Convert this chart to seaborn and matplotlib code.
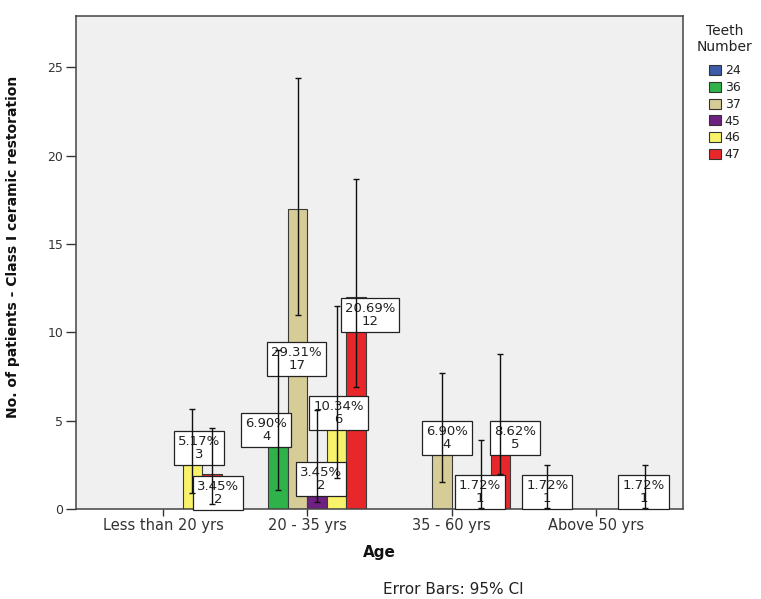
import numpy as np
import pandas as pd
import matplotlib
matplotlib.use("Agg")
import matplotlib.pyplot as plt
from matplotlib.patches import Patch
import seaborn as sns

# Age groups and tooth numbers
age_groups = ["Less than 20 yrs", "20 - 35 yrs", "35 - 60 yrs", "Above 50 yrs"]
teeth_levels = ["24", "36", "37", "45", "46", "47"]
teeth_colors = ["#3D5BA9", "#2FB24A", "#D5CC96", "#6E2180", "#F8F26A", "#E8272B"]

# Observed counts per age group / tooth
age = ["Less than 20 yrs", "Less than 20 yrs",
       "20 - 35 yrs", "20 - 35 yrs", "20 - 35 yrs", "20 - 35 yrs", "20 - 35 yrs",
       "35 - 60 yrs", "35 - 60 yrs", "35 - 60 yrs",
       "Above 50 yrs", "Above 50 yrs"]
tooth = ["46", "47", "36", "37", "45", "46", "47", "37", "46", "47", "24", "47"]
count = [3, 2, 4, 17, 2, 6, 12, 4, 1, 5, 1, 1]

# 95% confidence limits
ci_low = [0.9, 0.3, 1.1, 11.0, 0.4, 1.75, 6.9, 1.5, 0.03, 2.0, 0.03, 0.03]
ci_high = [5.65, 4.6, 9.0, 24.4, 5.6, 11.5, 18.7, 7.7, 3.9, 8.8, 2.5, 2.5]

# Label box placement relative to each bar top (pixels: right, up)
label_dx = [7, 6, -12, -1, 4, 2, 14, 5, -1, 15, 0, -1]
label_dy = [8, -19, 8, -150, -5, -10, -18, 0, -1, -17, -1, -1]

df = pd.DataFrame({"Age": age, "Teeth": tooth, "Count": count})
total = sum(count)

fig = plt.figure(figsize=(7.61, 5.99), dpi=100)
ax = fig.add_axes([76 / 761, 1 - 509 / 599, 607 / 761, 493 / 599])
ax.set_facecolor("#F0F0F0")

group_width = 0.81
sns.barplot(data=df, x="Age", y="Count", hue="Teeth", order=age_groups,
            hue_order=teeth_levels, palette=teeth_colors, saturation=1,
            errorbar=None, width=group_width, edgecolor="#3a3a3a",
            linewidth=0.8, legend=False, ax=ax, zorder=2)

n_hue = len(teeth_levels)
slot = group_width / n_hue
xs = [age_groups.index(a) + (teeth_levels.index(t) - (n_hue - 1) / 2) * slot
      for a, t in zip(age, tooth)]

# value labels: percent of all patients and count
for x, c, dx, dy in zip(xs, count, label_dx, label_dy):
    ax.annotate(f"{c / total * 100:.2f}%\n{c}", xy=(x, c),
                xytext=(dx * 0.72, dy * 0.72), textcoords="offset points",
                ha="center", va="center", multialignment="center",
                fontsize=9.5, color="#222222", linespacing=1.0,
                bbox=dict(boxstyle="square,pad=0.3", fc="white",
                          ec="#222222", lw=0.9),
                zorder=4)

cnt = np.array(count, dtype=float)
yerr = [cnt - np.array(ci_low), np.array(ci_high) - cnt]
ax.errorbar(xs, cnt, yerr=yerr, fmt="none", ecolor="#111111",
            elinewidth=1.0, capsize=2.5, capthick=1.0, zorder=5)

ax.set_xlim(-0.604, 3.604)
ax.set_ylim(0, 27.9)
ax.set_yticks([0, 5, 10, 15, 20, 25])
ax.set_yticklabels(["0", "5", "10", "15", "20", "25"])
ax.tick_params(axis="y", direction="out", length=7, width=1,
               color="#333333", labelsize=9, labelcolor="#333333", pad=2)
ax.tick_params(axis="x", direction="out", length=5, width=1,
               color="#333333", labelsize=10.5, labelcolor="#333333", pad=1.5)
for s in ax.spines.values():
    s.set_color("#444444")
    s.set_linewidth(1.1)

ax.set_xlabel("Age", fontsize=11, fontweight="bold", color="#111111")
ax.xaxis.set_label_coords(0.5, -0.074)
ax.set_ylabel("No. of patients - Class I ceramic restoration", fontsize=10,
              fontweight="bold", color="#111111")
ax.yaxis.set_label_coords(-0.092, 0.531)

fig.text(453 / 761, 1 - 590 / 599, "Error Bars: 95% CI", ha="center",
         va="center", fontsize=11, color="#222222")

handles = [Patch(facecolor=c, edgecolor="#333333", linewidth=0.8)
           for c in teeth_colors]
leg = ax.legend(handles, teeth_levels, title="Teeth\nNumber",
                loc="upper left", bbox_to_anchor=(688 / 761, 1 - 15 / 599),
                bbox_transform=fig.transFigure, frameon=False, fontsize=9,
                title_fontsize=10, handlelength=1.0, handleheight=0.85,
                handletextpad=0.3, labelspacing=0.3, borderpad=0.2)
leg._legend_box.sep = 7.5
leg.get_title().set_multialignment("center")
leg.get_title().set_color("#222222")
for t in leg.get_texts():
    t.set_color("#222222")

fig.savefig("out.png", dpi=100)
